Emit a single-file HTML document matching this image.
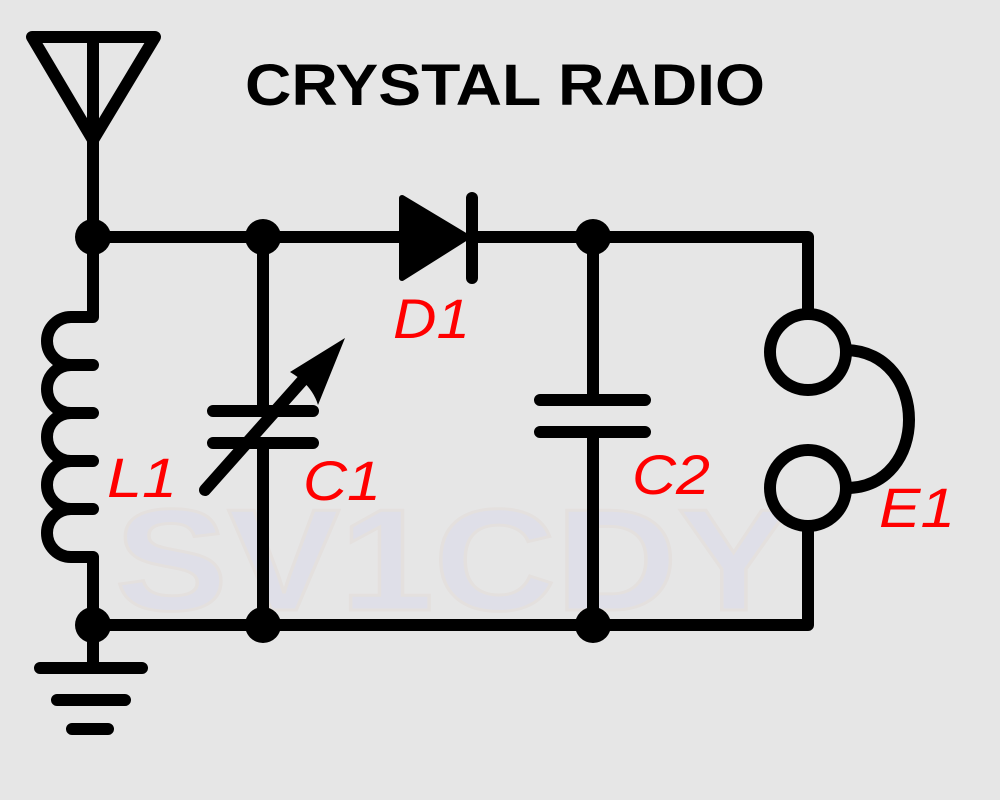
<!DOCTYPE html>
<html><head><meta charset="utf-8"><style>
html,body{margin:0;padding:0;background:#e6e6e6;}
svg{display:block;}
</style></head><body>
<svg width="1000" height="800" viewBox="0 0 1000 800" xmlns="http://www.w3.org/2000/svg">
<rect width="1000" height="800" fill="#e6e6e6"/>
<text x="115" y="610" textLength="675" lengthAdjust="spacingAndGlyphs" font-family="Liberation Sans, sans-serif" font-weight="bold" font-size="145" fill="#dfdfe8" stroke="#e4e0de" stroke-width="3">SV1CDY</text>
<text x="245" y="105" textLength="520" lengthAdjust="spacingAndGlyphs" font-family="Liberation Sans, sans-serif" font-weight="bold" font-size="58" fill="#000">CRYSTAL RADIO</text>
<g stroke="#000" stroke-width="12" fill="none" stroke-linecap="round" stroke-linejoin="round">
<path d="M32,37 L155,37 L93,140 Z M93,37 L93,140"/>
</g>
<g stroke="#000" stroke-width="12" fill="none" stroke-linejoin="round">
<path d="M93,140 L93,317"/>
<path d="M93,237 L400,237 M470,237 L808,237 L808,310"/>
<path d="M93,317 L71,317 A24,24 0 0 0 71,365 L93,365 M71,365 A24,24 0 0 0 71,413 L93,413 M71,413 A24,24 0 0 0 71,461 L93,461 M71,461 A24,24 0 0 0 71,509 L93,509 M71,509 A24,24 0 0 0 71,557 L93,557 L93,625" stroke-linecap="round"/>
<path d="M93,625 L808,625 L808,528"/>
<path d="M93,625 L93,668"/>
<path d="M263,237 L263,411 M263,443 L263,625"/>
<path d="M593,237 L593,400 M593,432 L593,625"/>
</g>
<g stroke="#000" stroke-width="12" stroke-linecap="round" fill="none">
<path d="M40,668 L142,668 M57,700 L125,700 M72,729 L108,729"/>
<path d="M213,411 L313,411 M213,443 L313,443"/>
<path d="M540,400 L645,400 M540,432 L645,432"/>
<path d="M205,490 L310,372"/>
<path d="M472,198 L472,278"/>
</g>
<path d="M345,338 L318,405 Q312,385 290,372 Z" fill="#000"/>
<path d="M402,198 L467,237 L402,278 Z" fill="#000" stroke="#000" stroke-width="6" stroke-linejoin="round"/>
<g fill="#000">
<circle cx="93" cy="237" r="18"/><circle cx="263" cy="237" r="18"/><circle cx="593" cy="237" r="18"/>
<circle cx="93" cy="625" r="18"/><circle cx="263" cy="625" r="18"/><circle cx="593" cy="625" r="18"/>
</g>
<g stroke="#000" stroke-width="12" fill="none">
<circle cx="808" cy="352" r="38"/>
<circle cx="808" cy="488" r="38"/>
<path d="M846,350 C930,352 930,488 846,488"/>
</g>
<g font-family="Liberation Sans, sans-serif" font-style="italic" font-size="56" fill="#ff0000" lengthAdjust="spacingAndGlyphs">
<text x="393" y="338" textLength="77" lengthAdjust="spacingAndGlyphs">D1</text>
<text x="107" y="497" textLength="70" lengthAdjust="spacingAndGlyphs">L1</text>
<text x="303" y="500" textLength="78" lengthAdjust="spacingAndGlyphs">C1</text>
<text x="632" y="494" textLength="78" lengthAdjust="spacingAndGlyphs">C2</text>
<text x="879" y="527" textLength="76" lengthAdjust="spacingAndGlyphs">E1</text>
</g>
</svg>
</body></html>
